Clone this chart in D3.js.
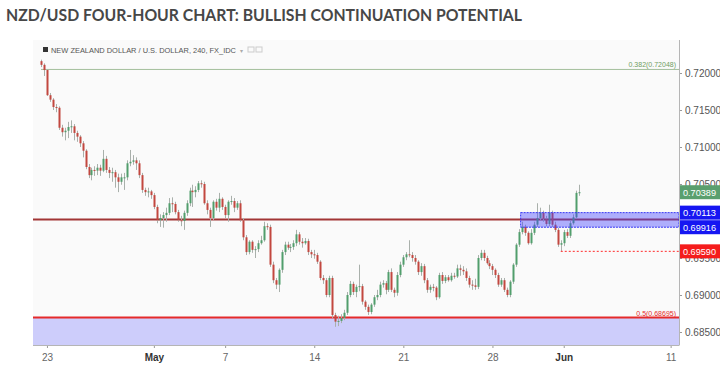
<!DOCTYPE html>
<html>
<head>
<meta charset="utf-8">
<script src="https://cdn.jsdelivr.net/npm/d3@7"></script>
<style>
  body { margin: 0; background: #fff; }
  svg { display: block; font-family: "Liberation Sans", Arial, sans-serif; }
</style>
</head>
<body>
<svg id="chart" width="720" height="375"></svg>
<script>
// NZD/USD 4h candles, oldest first
const opens = [
  .7216,.7211,.7204,.7170,.7164,.7154,.7153,.7126,.7120,.7122,.7127,.7128,.7119,.7114,.7105,.7095,.7073,.7062,.7069,.7068,.7072,.7068,.7084,.7069,.7065,.7066,.7059,.7053,.7059,.7059,.7078,.7080,.7082,.7078,.7062,.7042,.7039,.7040,.7035,.7019,.7001,.7004,.7008,.7011,.7024,.7023,.7012,
  .7001,.7000,.7011,.7024,.7041,.7039,.7042,.7051,.7050,.7024,.7015,.7004,.7026,.7018,.7030,.7019,.7008,.7026,.7027,.7018,.7024,.7001,.6978,.6958,.6972,.6961,.6962,.6970,.6974,.6993,.6992,.6941,.6920,.6914,.6934,.6958,.6968,.6964,.6965,.6970,.6982,.6972,.6970,.6973,.6958,.6955,.6954,
  .6945,.6923,.6920,.6900,.6923,.6873,.6864,.6865,.6869,.6876,.6900,.6915,.6904,.6911,.6912,.6891,.6884,.6877,.6887,.6897,.6900,.6914,.6916,.6907,.6931,.6907,.6903,.6927,.6941,.6951,.6955,.6954,.6950,.6945,.6931,.6939,.6920,.6907,.6911,.6910,.6897,.6927,.6919,.6924,.6920,.6926,.6925,
  .6936,.6934,.6932,.6923,.6914,.6913,.6911,.6950,.6957,.6950,.6943,.6939,.6934,.6927,.6914,.6920,.6907,.6900,.6918,.6941,.6968,.6985,.6992,.6984,.6970,.6984,.6995,.7004,.7011,.7003,.6996,.7011,.6995,.6988,.6968,.6970,.6985,.6980,.6997,.7005,.7038
];
const highs = [
  .7218,.7213,.7205,.7173,.7166,.7158,.7155,.7130,.7126,.7134,.7136,.7131,.7122,.7116,.7108,.7097,.7077,.7072,.7074,.7077,.7076,.7096,.7088,.7073,.7072,.7069,.7064,.7064,.7065,.7082,.7096,.7089,.7086,.7082,.7065,.7045,.7045,.7042,.7038,.7022,.7009,.7012,.7018,.7031,.7032,.7026,.7015,
  .7007,.7014,.7028,.7045,.7049,.7047,.7054,.7055,.7053,.7028,.7018,.7028,.7030,.7038,.7032,.7022,.7028,.7034,.7031,.7027,.7028,.7004,.6981,.6974,.6974,.6966,.6974,.6980,.6999,.6997,.6995,.6945,.6923,.6936,.6961,.6972,.6972,.6969,.6974,.6988,.6985,.6977,.6977,.6976,.6961,.6961,.6957,
  .6947,.6927,.6923,.6926,.6926,.6876,.6872,.6874,.6880,.6904,.6919,.6918,.6914,.6941,.6915,.6893,.6887,.6889,.6900,.6907,.6918,.6920,.6919,.6934,.6936,.6910,.6931,.6945,.6954,.6958,.6974,.6958,.6954,.6947,.6943,.6942,.6923,.6914,.6915,.6912,.6930,.6931,.6927,.6927,.6930,.6930,.6941,
  .6941,.6939,.6936,.6926,.6920,.6922,.6954,.6961,.6961,.6953,.6947,.6942,.6936,.6930,.6923,.6923,.6910,.6920,.6943,.6970,.6989,.6999,.6995,.6986,.6989,.6999,.7024,.7018,.7014,.7007,.7022,.7014,.6999,.6991,.6974,.6988,.6989,.7001,.7009,.7041,.7049
];
const lows = [
  .7208,.7196,.7169,.7161,.7150,.7147,.7123,.7114,.7109,.7112,.7119,.7109,.7107,.7100,.7086,.7070,.7058,.7055,.7061,.7062,.7061,.7066,.7065,.7058,.7053,.7045,.7039,.7049,.7042,.7055,.7074,.7076,.7069,.7058,.7038,.7034,.7032,.7030,.7016,.6997,.6992,.6991,.6999,.7008,.7012,.7009,.6999,
  .6993,.6988,.7007,.7020,.7019,.7032,.7039,.7045,.7022,.7009,.6992,.7001,.7014,.7012,.7015,.7004,.6999,.7022,.7012,.7015,.6999,.6974,.6954,.6955,.6957,.6950,.6958,.6968,.6972,.6988,.6938,.6916,.6908,.6904,.6930,.6954,.6961,.6958,.6961,.6966,.6968,.6964,.6968,.6954,.6950,.6949,.6942,
  .6920,.6915,.6897,.6897,.6869,.6857,.6858,.6862,.6866,.6873,.6897,.6900,.6897,.6905,.6887,.6880,.6873,.6874,.6884,.6893,.6897,.6910,.6901,.6904,.6904,.6897,.6899,.6924,.6938,.6947,.6951,.6945,.6941,.6927,.6926,.6916,.6903,.6903,.6905,.6893,.6895,.6915,.6916,.6918,.6918,.6922,.6923,
  .6926,.6927,.6919,.6910,.6907,.6907,.6908,.6947,.6946,.6941,.6935,.6927,.6923,.6911,.6911,.6904,.6897,.6897,.6915,.6938,.6965,.6982,.6980,.6968,.6968,.6981,.6992,.7001,.6999,.6993,.6993,.6992,.6985,.6965,.6959,.6966,.6977,.6977,.6995,.7003,.7034
];
const closes = [
  .7211,.7204,.7170,.7164,.7154,.7153,.7126,.7120,.7122,.7127,.7128,.7119,.7114,.7105,.7095,.7073,.7062,.7069,.7068,.7072,.7068,.7084,.7069,.7065,.7066,.7059,.7053,.7059,.7059,.7078,.7080,.7082,.7078,.7062,.7042,.7039,.7040,.7035,.7019,.7001,.7004,.7008,.7011,.7024,.7023,.7012,.7001,
  .7000,.7011,.7024,.7041,.7039,.7042,.7051,.7050,.7024,.7015,.7004,.7026,.7018,.7030,.7019,.7008,.7026,.7027,.7018,.7024,.7001,.6978,.6958,.6972,.6961,.6962,.6970,.6974,.6993,.6992,.6941,.6920,.6914,.6934,.6958,.6968,.6964,.6965,.6970,.6982,.6972,.6970,.6973,.6958,.6955,.6954,.6945,
  .6923,.6920,.6900,.6923,.6873,.6864,.6865,.6869,.6876,.6900,.6915,.6904,.6911,.6912,.6891,.6884,.6877,.6887,.6897,.6900,.6914,.6916,.6907,.6931,.6907,.6903,.6927,.6941,.6951,.6955,.6954,.6950,.6945,.6931,.6939,.6920,.6907,.6911,.6910,.6897,.6927,.6919,.6924,.6920,.6926,.6925,.6936,
  .6934,.6932,.6923,.6914,.6913,.6911,.6950,.6957,.6950,.6943,.6939,.6934,.6927,.6914,.6920,.6907,.6900,.6918,.6941,.6968,.6985,.6992,.6984,.6970,.6984,.6995,.7004,.7011,.7003,.6996,.7011,.6995,.6988,.6968,.6970,.6985,.6980,.6997,.7005,.7038,.70389
];

// axis ticks (0.70000 sits under the zone tags, so it gets no label)
const priceTicks = [0.685, 0.69, 0.695, 0.70, 0.705, 0.71, 0.715, 0.72];
const hiddenTicks = [0.70];
const dateLabels = ["23", "May", "7", "14", "21", "28", "Jun", "11"];
const dateBars   = [2, 38, 62, 92, 122, 152, 176, 212];   // bar index of each date
const boldDates  = ["May", "Jun"];

// drawn levels
const fibNames  = ["0.382", "0.5"];
const fibPrices = [0.72048, 0.68695];
const supportLevel = 0.7002;
const zoneTop = 0.70113, zoneBottom = 0.69916, zoneStartBar = 162;
const swingLow = 0.69590, swingLowBar = 175;

const svg = d3.select("#chart");
const plot = { left: 33, right: 679, top: 40, bottom: 345 };
const fmt = d3.format(".5f");

const x = d3.scaleLinear().domain([0, closes.length - 1]).range([41, 41 + (closes.length - 1) * 2.97]);
const y = d3.scaleLinear().domain([0.685, 0.72]).range([332, 73]);

svg.append("defs").append("clipPath").attr("id", "clip")
  .append("rect").attr("x", plot.left).attr("y", plot.top)
  .attr("width", plot.right - plot.left).attr("height", plot.bottom - plot.top);

svg.append("rect").attr("x", plot.left).attr("y", plot.top)
  .attr("width", plot.right - plot.left).attr("height", plot.bottom - plot.top)
  .attr("fill", "#fafafa");

const g = svg.append("g").attr("clip-path", "url(#clip)");

// lavender area under the 0.5 retracement
g.append("rect").attr("x", plot.left).attr("y", y(fibPrices[1]))
  .attr("width", plot.right - plot.left).attr("height", plot.bottom - y(fibPrices[1]))
  .attr("fill", "#cdcdfb");

// fib lines
g.append("line").attr("x1", x(0)).attr("x2", plot.right)
  .attr("y1", y(fibPrices[0])).attr("y2", y(fibPrices[0]))
  .attr("stroke", "#a3bf9c").attr("stroke-width", 1);
g.append("line").attr("x1", plot.left).attr("x2", plot.right)
  .attr("y1", y(fibPrices[1])).attr("y2", y(fibPrices[1]))
  .attr("stroke", "#e52a2a").attr("stroke-width", 2);

fibPrices.forEach((p, i) => {
  g.append("text").attr("x", plot.right - 3).attr("y", y(p) - 2)
    .attr("text-anchor", "end").attr("font-size", 7)
    .attr("fill", i === 0 ? "#6f9d63" : "#e52a2a")
    .text(fibNames[i] + "(" + fmt(p) + ")");
});

// support line
g.append("line").attr("x1", plot.left).attr("x2", plot.right)
  .attr("y1", y(supportLevel)).attr("y2", y(supportLevel))
  .attr("stroke", "#a13535").attr("stroke-width", 2);

// candles
const idx = d3.range(closes.length);
const up = i => closes[i] >= opens[i];

g.append("g").selectAll("line").data(idx).join("line")
  .attr("x1", i => Math.round(x(i)) + 0.5).attr("x2", i => Math.round(x(i)) + 0.5)
  .attr("y1", i => y(highs[i])).attr("y2", i => y(lows[i]))
  .attr("stroke", "#a9b0ab").attr("stroke-width", 1);

g.append("g").selectAll("rect").data(idx).join("rect")
  .attr("x", i => Math.round(x(i)) - 0.5)
  .attr("width", 2)
  .attr("y", i => y(Math.max(opens[i], closes[i])))
  .attr("height", i => Math.max(1, Math.abs(y(opens[i]) - y(closes[i]))))
  .attr("fill", i => up(i) ? "#519e6c" : "#c2473f");

// resistance-turned-support zone
g.append("rect")
  .attr("x", x(zoneStartBar) - 1.5).attr("y", y(zoneTop))
  .attr("width", plot.right - x(zoneStartBar) + 1.5).attr("height", y(zoneBottom) - y(zoneTop))
  .attr("fill", "rgba(70,70,255,0.42)")
  .attr("stroke", "#3535f5").attr("stroke-width", 1).attr("stroke-dasharray", "2,1");

// swing low marker
g.append("line").attr("x1", x(swingLowBar)).attr("x2", plot.right)
  .attr("y1", y(swingLow)).attr("y2", y(swingLow))
  .attr("stroke", "#ff2b2b").attr("stroke-width", 1).attr("stroke-dasharray", "2,2");

// price axis
const yAxis = svg.append("g").attr("transform", `translate(${plot.right},0)`)
  .call(d3.axisRight(y).tickValues(priceTicks)
    .tickFormat(d => hiddenTicks.includes(d) ? "" : fmt(d)).tickSize(3).tickPadding(3));
yAxis.select(".domain").remove();
yAxis.selectAll("line").attr("stroke", "#999");
yAxis.selectAll("text").attr("font-size", 10).attr("fill", "#555")
  .attr("font-family", "'Liberation Sans', Arial, sans-serif");
svg.append("line").attr("x1", plot.right + 0.5).attr("x2", plot.right + 0.5)
  .attr("y1", plot.top).attr("y2", plot.bottom).attr("stroke", "#b5b5b5");

// time axis
const xAxis = svg.append("g").attr("transform", `translate(0,${plot.bottom})`)
  .call(d3.axisBottom(x).tickValues(dateBars).tickFormat((d, i) => dateLabels[i]).tickSize(3).tickPadding(6));
xAxis.select(".domain").remove();
xAxis.selectAll("line").attr("stroke", "#999");
xAxis.selectAll("text").attr("font-size", 10)
  .attr("font-family", "'Liberation Sans', Arial, sans-serif")
  .attr("font-weight", (d, i) => boldDates.includes(dateLabels[i]) ? "bold" : "normal")
  .attr("fill", (d, i) => boldDates.includes(dateLabels[i]) ? "#333" : "#666");
svg.append("line").attr("x1", plot.left).attr("x2", plot.right + 0.5)
  .attr("y1", plot.bottom + 0.5).attr("y2", plot.bottom + 0.5).attr("stroke", "#b5b5b5");

// price tags on the right axis
const tags = [
  { p: closes[closes.length - 1], c: "#5a9f6e" },
  { p: zoneTop, c: "#1616f2" },
  { p: zoneBottom, c: "#1616f2" },
  { p: swingLow, c: "#f51c1c" }
];
tags.forEach(t => {
  svg.append("rect").attr("x", plot.right + 1).attr("y", y(t.p) - 7)
    .attr("width", 41).attr("height", 14).attr("fill", t.c);
  svg.append("text").attr("x", plot.right + 4).attr("y", y(t.p) + 3.5)
    .attr("font-size", 9.5).attr("fill", "#fff")
    .attr("textLength", 33).attr("lengthAdjust", "spacingAndGlyphs")
    .text(fmt(t.p));
});

// series legend
svg.append("rect").attr("x", 43).attr("y", 47).attr("width", 5).attr("height", 5).attr("fill", "#333");
svg.append("text").attr("x", 51).attr("y", 53).attr("font-size", 7.5).attr("fill", "#555")
  .attr("textLength", 185).attr("lengthAdjust", "spacingAndGlyphs")
  .text("NEW ZEALAND DOLLAR / U.S. DOLLAR, 240, FX_IDC");
svg.append("text").attr("x", 240).attr("y", 53).attr("font-size", 6).attr("fill", "#aaa").text("\u25BE");
[248, 256].forEach(bx => svg.append("rect").attr("x", bx).attr("y", 47).attr("width", 6).attr("height", 5)
  .attr("fill", "none").attr("stroke", "#ccc"));

// title
svg.append("text").attr("x", 6).attr("y", 21)
  .attr("font-family", "Lato, 'Open Sans', sans-serif").attr("font-weight", "bold")
  .attr("font-size", 17).attr("fill", "#474747")
  .attr("textLength", 516).attr("lengthAdjust", "spacingAndGlyphs")
  .text("NZD/USD FOUR-HOUR CHART: BULLISH CONTINUATION POTENTIAL");
</script>
</body>
</html>
